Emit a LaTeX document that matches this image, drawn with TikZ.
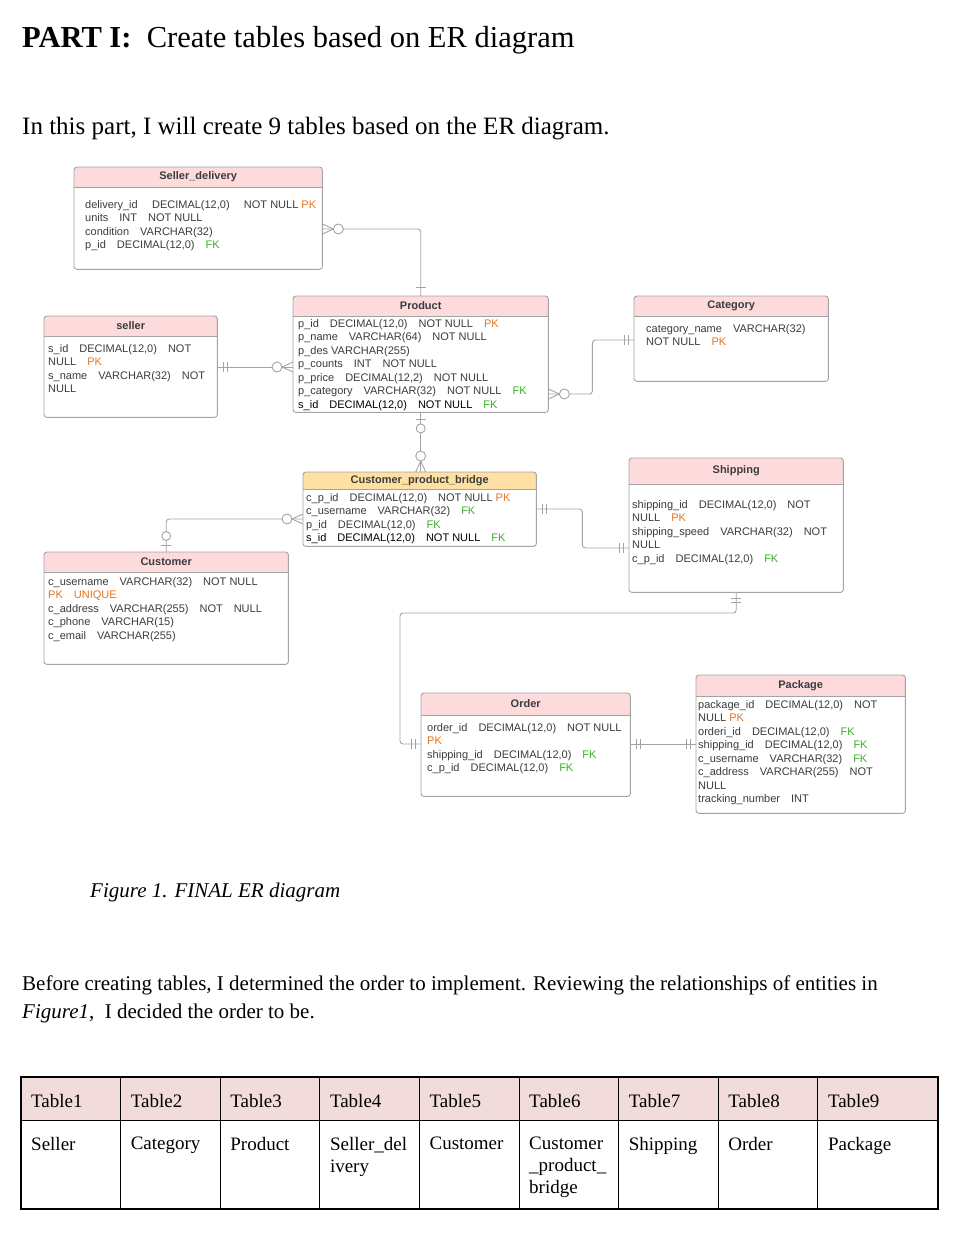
\documentclass[tikz,border=0pt]{standalone}
\usepackage{fontspec}
\setmainfont{Liberation Serif}
\newfontfamily\ersans{Liberation Sans}
\usetikzlibrary{decorations.markings}
\definecolor{erhead}{HTML}{FDDADB}
\definecolor{brhead}{HTML}{FEE0A4}
\definecolor{erline}{HTML}{A3A3A3}
\definecolor{ertext}{HTML}{3C3C3C}
\definecolor{pkcol}{HTML}{E8731A}
\definecolor{fkcol}{HTML}{3DAE2B}
\definecolor{tabhead}{HTML}{F1DCDB}
\newcommand{\PK}{\textcolor{pkcol}{PK}}
\newcommand{\FK}{\textcolor{fkcol}{FK}}
\newcommand{\gp}{\hspace{1em}}
% cardinality marks, #1 = 1 at the end of a line, -1 at its start
\newcommand{\crowzm}[1]{\draw[sharp corners] (0pt,5pt) -- (#1*-11pt,0pt) -- (0pt,-5pt);
  \draw[fill=white] (#1*-16pt,0pt) circle (5pt);}
\newcommand{\crowzo}[1]{\draw (#1*-7pt,5pt) -- (#1*-7pt,-5pt);
  \draw[fill=white] (#1*-16pt,0pt) circle (4.5pt);}
\newcommand{\barone}[1]{\draw (#1*-9pt,5pt) -- (#1*-9pt,-5pt);}
\newcommand{\bartwo}[1]{\draw (#1*-6pt,5pt) -- (#1*-6pt,-5pt) (#1*-10pt,5pt) -- (#1*-10pt,-5pt);}
\tikzset{
  ebox/.style={rectangle,anchor=north west,inner sep=0pt,fill=white},
  erhd/.style={inner sep=0pt,text=ertext,font=\ersans\bfseries\fontsize{11}{13}\selectfont},
  erbody/.style={anchor=north west,inner sep=0pt,align=left,text=ertext,font=\ersans\fontsize{11}{13.5}\selectfont},
  rel/.style={draw=erline,line width=.9pt,rounded corners=3pt},
  fromcard/.style={postaction={decorate,decoration={markings,mark=at position 0 with {#1{-1}}}}},
  tocard/.style={postaction={decorate,decoration={markings,mark=at position 1 with {#1{1}}}}},
  tabtxt/.style={inner sep=0pt,font=\fontsize{19}{22}\selectfont},
}
% name, x, y, width, height, head height, head colour, title
\newcommand{\entity}[8]{%
  \node[ebox,minimum width=#4,minimum height=#5] (#1) at (#2,#3) {};
  \begin{scope}
    \clip[rounded corners=3pt] (#1.north west) rectangle (#1.south east);
    \fill[#7] (#1.north west) rectangle ([yshift=-#6]#1.north east);
  \end{scope}
  \draw[erline,line width=.9pt] ([yshift=-#6]#1.north west) -- ([yshift=-#6]#1.north east);
  \draw[erline,line width=.9pt,rounded corners=3pt] (#1.north west) rectangle (#1.south east);
  \node[erhd] (#1h) at ([yshift=-#6/2]#1.north) {#8};
}
\begin{document}
\begin{tikzpicture}[x=1pt,y=-1pt]
\useasboundingbox (0,0) rectangle (978,1236);
\node[anchor=base west,inner sep=0pt,font=\fontsize{30.5}{36}\selectfont] (title) at (22,48) {\textbf{PART I:}\hspace{0.5em}Create tables based on ER diagram};
\node[anchor=base west,inner sep=0pt,font=\fontsize{25}{30}\selectfont] (intro) at (22,135) {In this part, I will create 9 tables based on the ER diagram.};

\entity{sdel}{74}{167}{248}{102}{20}{erhead}{Seller\_delivery}
\entity{prod}{293}{296}{255}{116}{20}{erhead}{Product}
\entity{cat}{634}{296}{194}{85}{20}{erhead}{Category}
\entity{sell}{44}{316}{173}{101}{20}{erhead}{seller}
\entity{br}{303}{472}{233}{74}{17}{brhead}{Customer\_product\_bridge}
\entity{cust}{44}{552}{244}{112}{20}{erhead}{Customer}
\entity{ship}{629}{458}{214}{134}{26}{erhead}{Shipping}
\entity{ord}{421}{693}{209}{103}{22}{erhead}{Order}
\entity{pkg}{696}{675}{209}{138}{21}{erhead}{Package}

\node[erbody] (sdelt) at (85,200) {delivery\_id\hspace{1.3em}DECIMAL(12,0)\hspace{1.3em}NOT NULL \PK\\units\gp INT\gp NOT NULL\\condition\gp VARCHAR(32)\\p\_id\gp DECIMAL(12,0)\gp\FK};
\node[erbody] (prodt) at (298,319) {p\_id\gp DECIMAL(12,0)\gp NOT NULL\gp\PK\\p\_name\gp VARCHAR(64)\gp NOT NULL\\p\_des\ VARCHAR(255)\\p\_counts\gp INT\gp NOT NULL\\p\_price\gp DECIMAL(12,2)\gp NOT NULL\\p\_category\gp VARCHAR(32)\gp NOT NULL\gp\FK\\{\color{black}s\_id\gp DECIMAL(12,0)\gp NOT NULL}\gp\FK};
\node[erbody] (catt) at (646,324) {category\_name\gp VARCHAR(32)\\NOT NULL\gp\PK};
\node[erbody] (sellt) at (48,344) {s\_id\gp DECIMAL(12,0)\gp NOT\\NULL\gp\PK\\s\_name\gp VARCHAR(32)\gp NOT\\NULL};
\node[erbody] (brt) at (306,493) {c\_p\_id\gp DECIMAL(12,0)\gp NOT NULL \PK\\c\_username\gp VARCHAR(32)\gp\FK\\p\_id\gp DECIMAL(12,0)\gp\FK\\{\color{black}s\_id\gp DECIMAL(12,0)\gp NOT NULL}\gp\FK};
\node[erbody] (custt) at (48,577) {c\_username\gp VARCHAR(32)\gp NOT NULL\\\textcolor{pkcol}{PK\gp UNIQUE}\\c\_address\gp VARCHAR(255)\gp NOT\gp NULL\\c\_phone\gp VARCHAR(15)\\c\_email\gp VARCHAR(255)};
\node[erbody] (shipt) at (632,500) {shipping\_id\gp DECIMAL(12,0)\gp NOT\\NULL\gp\PK\\shipping\_speed\gp VARCHAR(32)\gp NOT\\NULL\\c\_p\_id\gp DECIMAL(12,0)\gp\FK};
\node[erbody] (ordt) at (427,723) {order\_id\gp DECIMAL(12,0)\gp NOT NULL\\\PK\\shipping\_id\gp DECIMAL(12,0)\gp\FK\\c\_p\_id\gp DECIMAL(12,0)\gp\FK};
\node[erbody] (pkgt) at (698,700) {package\_id\gp DECIMAL(12,0)\gp NOT\\NULL \PK\\orderi\_id\gp DECIMAL(12,0)\gp\FK\\shipping\_id\gp DECIMAL(12,0)\gp\FK\\c\_username\gp VARCHAR(32)\gp\FK\\c\_address\gp VARCHAR(255)\gp NOT\\NULL\\tracking\_number\gp INT};

\draw[rel,fromcard=\crowzm,tocard=\barone] (sdel.east |- 0,229) -| (prod.north);
\draw[rel,fromcard=\bartwo,tocard=\crowzm] (sell.east |- 0,367) -- (prod.west |- 0,367);
\draw[rel,fromcard=\crowzm,tocard=\bartwo] (prod.east |- 0,394) -- ++(44,0) |- (cat.west |- 0,340);
\draw[rel,fromcard=\crowzo,tocard=\crowzm] (prod.south) -- (prod.south |- br.north);
\draw[rel,fromcard=\crowzm,tocard=\crowzo] (br.west |- 0,519) -| (cust.north);
\draw[rel,fromcard=\bartwo,tocard=\bartwo] (br.east |- 0,509) -- ++(46,0) |- (ship.west |- 0,548);
\draw[rel,fromcard=\bartwo,tocard=\bartwo] (ship.south) |- (400,613) |- (ord.west |- 0,744);
\draw[rel,fromcard=\bartwo,tocard=\bartwo] (ord.east |- 0,744) -- (pkg.west |- 0,744);

\node[anchor=base west,inner sep=0pt,font=\itshape\fontsize{21}{25}\selectfont] (cap) at (90,897) {Figure 1. FINAL ER diagram};
\node[anchor=base west,inner sep=0pt,font=\fontsize{21}{25}\selectfont] (para) at (22,990) {Before creating tables, I determined the order to implement. Reviewing the relationships of entities in};
\node[anchor=base west,inner sep=0pt,font=\fontsize{21}{25}\selectfont] (para2) at (22,1018) {\textit{Figure1},\ \ I decided the order to be.};

\fill[tabhead] (21,1077) rectangle (938,1120);
\foreach \i/\h/\b in {1/Table1/Seller,2/Table2/Category,3/Table3/Product,4/Table4/{Seller\_del\\ivery},5/Table5/Customer,6/Table6/{Customer\\\_product\_\\bridge},7/Table7/Shipping,8/Table8/Order,9/Table9/Package}{
  \node[tabtxt,anchor=base west] (th\i) at ({21+99.6*(\i-1)+10},1107) {\h};
  \node[tabtxt,anchor=north west,align=left] (tb\i) at ({21+99.6*(\i-1)+10},1137) {\b};
}
\foreach \i in {1,...,8}
  \draw[line width=.8pt] ({21+99.6*\i},1077) -- ({21+99.6*\i},1209);
\draw[line width=.8pt] (21,1120) -- (938,1120);
\draw[line width=1.6pt] (21,1077) rectangle (938,1209);
\end{tikzpicture}
\end{document}
